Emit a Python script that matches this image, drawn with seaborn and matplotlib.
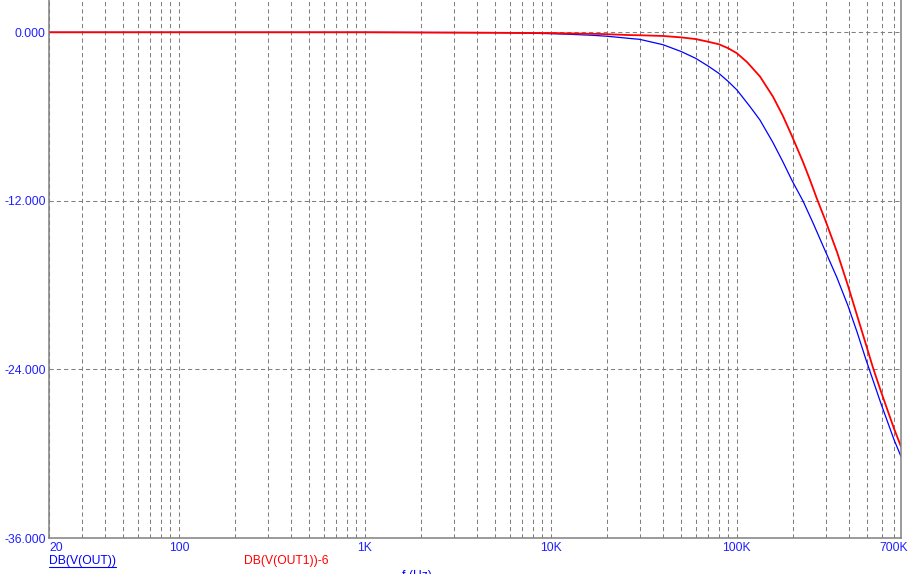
import matplotlib
matplotlib.use('Agg')
import matplotlib.pyplot as plt
from matplotlib.lines import Line2D
import pandas as pd
import seaborn as sns

# Trace values (frequency in Hz, magnitude in dB)
freq_out = [20, 1000, 5000, 7000, 10000, 12500, 16600, 20000, 23200, 26200,
            30000, 40000, 50000, 60000, 70000, 80000, 90000, 100000, 117500,
            133000, 156200, 176800, 197700, 226600, 256500, 297600, 345300,
            395800, 442400, 494800, 595700, 699800, 763000]
db_out = [0.0, 0.0, -0.02, -0.05, -0.1, -0.14, -0.21, -0.28, -0.36, -0.43,
          -0.5, -0.88, -1.36, -1.85, -2.4, -2.92, -3.51, -4.10, -5.28,
          -6.24, -7.84, -9.22, -10.54, -12.0, -13.56, -15.52, -17.47,
          -19.47, -21.32, -23.31, -26.44, -29.0, -30.2]

freq_out1 = [20, 1000, 10000, 18600, 26900, 30000, 40000, 50000, 60000, 70000,
             80000, 90000, 100000, 113200, 133000, 156200, 176800, 197700,
             226600, 247100, 269600, 297600, 345300, 395800, 431800,
             494800, 539500, 595700, 699800, 763000]
db_out1 = [0.0, 0.0, -0.05, -0.12, -0.2, -0.21, -0.26, -0.36, -0.48, -0.67,
           -0.85, -1.14, -1.49, -2.11, -3.14, -4.57, -5.95, -7.38,
           -9.22, -10.5, -11.86, -13.31, -15.63, -18.04, -19.68,
           -22.24, -23.88, -25.58, -28.21, -29.49]

trace_names = ['DB(V(OUT))', 'DB(V(OUT1))-6']
xtick_vals = [20, 100, 1000, 10000, 100000, 700000]
xtick_text = ['20', '100', '1K', '10K', '100K', '700K']
ytick_vals = [0, -12, -24, -36]

df_out = pd.DataFrame({'freq': freq_out, 'db': db_out, 'trace': trace_names[0]})
df_out1 = pd.DataFrame({'freq': freq_out1, 'db': db_out1, 'trace': trace_names[1]})

sns.set_style('white')
plt.rcParams['font.family'] = ['Liberation Sans', 'DejaVu Sans']

blue = '#0000ff'
red = '#ff0000'
gray = '#808080'
label_blue = '#2020ff'

fig = plt.figure(figsize=(9.15, 5.74), dpi=100)
ax = fig.add_axes([49 / 915, 36 / 574, 852 / 915, 538 / 574])
ax.set_xscale('log')

sns.lineplot(data=df_out, x='freq', y='db', color=blue, linewidth=0.9,
             ax=ax, legend=False)
sns.lineplot(data=df_out1, x='freq', y='db', color=red, linewidth=1.3,
             ax=ax, legend=False)

ax.set_xlim(20, 763000)
ax.set_ylim(-36, 2.3)

# vertical grid at every decade sub-division, labels only on a few
grid_f = [m * 10 ** e for e in range(1, 6) for m in range(1, 10)
          if 20 < m * 10 ** e <= 700000]
ticks = [20] + grid_f
labels = [xtick_text[xtick_vals.index(t)] if t in xtick_vals else '' for t in ticks]
ax.set_xticks(ticks)
ax.set_xticklabels(labels)
ax.xaxis.set_minor_locator(matplotlib.ticker.NullLocator())
ax.set_yticks(ytick_vals)
ax.set_yticklabels([f'{abs(v):.3f}' if v == 0 else f'{v:.3f}' for v in ytick_vals])

ax.grid(True, which='major', color=gray, linestyle=(0, (4, 3)), linewidth=0.75)
ax.tick_params(axis='both', length=0, labelsize=8.7, labelcolor=label_blue)
ax.tick_params(axis='x', pad=3)
ax.tick_params(axis='y', pad=2.5)
ax.get_xticklabels()[0].set_horizontalalignment('left')

for side in ['left', 'bottom', 'right']:
    ax.spines[side].set_color(gray)
    ax.spines[side].set_linewidth(1.1)
ax.spines['top'].set_visible(False)
ax.set_xlabel('')
ax.set_ylabel('')

# trace names below the axis
t1 = fig.text(49 / 915, 1 - 561 / 574, trace_names[0], color=blue,
              fontsize=8.7, ha='left', va='center')
fig.text(244 / 915, 1 - 561 / 574, trace_names[1], color=red,
         fontsize=8.7, ha='left', va='center')
fig.text(402 / 915, 1 - 570 / 574, 'f (Hz)', color=blue,
         fontsize=8.7, ha='left', va='top')

fig.canvas.draw()
bb = t1.get_window_extent()
fig.add_artist(Line2D([bb.x0 / 915, bb.x1 / 915],
                      [(574 - 567) / 574, (574 - 567) / 574],
                      color=blue, linewidth=0.8, transform=fig.transFigure))

fig.savefig('out.png', dpi=100)
